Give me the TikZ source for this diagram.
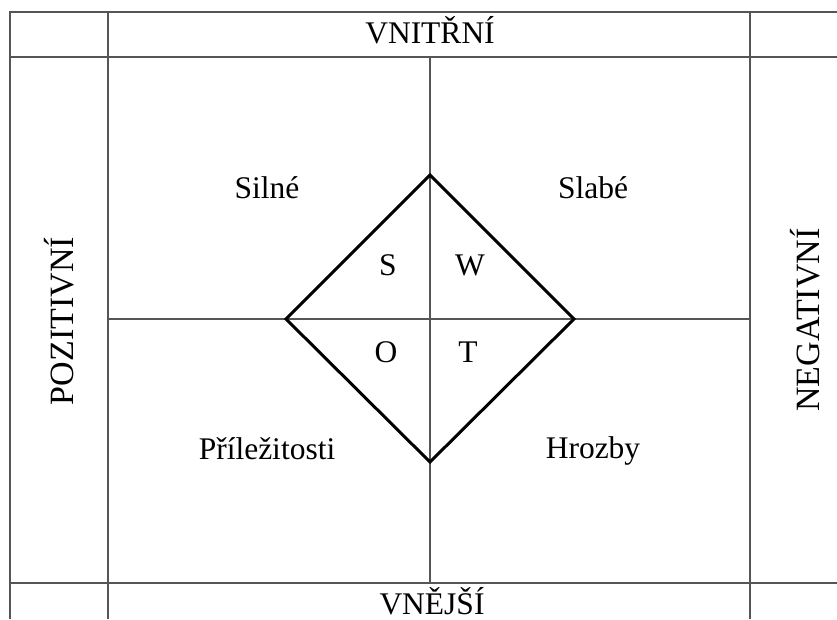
\documentclass[tikz,border=0pt]{standalone}
\usepackage{fontspec}
\setmainfont{Liberation Serif}
\definecolor{gridgray}{RGB}{85,85,85}
\begin{document}
\begin{tikzpicture}[x=1pt,y=-1pt,
  gridline/.style={line width=2pt,draw=gridgray},
  diamondline/.style={line width=3pt,draw=black,line join=miter},
  lbl/.style={inner sep=0pt,anchor=base,font=\fontsize{31.5}{36}\selectfont},
  sidelbl/.style={inner sep=0pt,rotate=90,font=\fontsize{34}{40}\selectfont}]
\useasboundingbox (0,0) rectangle (837,619);
% frame
\draw[gridline] (10,619) -- (10,12) -- (837,12);
\draw[gridline] (10,57) -- (837,57);
\draw[gridline] (10,583) -- (837,583);
\draw[gridline] (108,12) -- (108,619);
\draw[gridline] (750,12) -- (750,619);
\draw[gridline] (430,57) -- (430,583);
\draw[gridline] (108,319) -- (750,319);
% diamond
\coordinate (dt) at (430,175);
\coordinate (dl) at (286,319);
\coordinate (dr) at (574,319);
\coordinate (db) at (430,462);
\draw[diamondline] (dt) -- (dr) -- (db) -- (dl) -- cycle;
% labels
\node[lbl] (vn) at (430,43) {VNITŘNÍ};
\node[lbl] (vj) at (432,614) {VNĚJŠÍ};
\node[lbl] (si) at (267,198) {Silné};
\node[lbl] (sl) at (593,198) {Slabé};
\node[lbl] (pr) at (267,459) {Příležitosti};
\node[lbl] (hr) at (593,458) {Hrozby};
\node[lbl] (s) at (388,275) {S};
\node[lbl] (w) at (470,275) {W};
\node[lbl] (o) at (386,362) {O};
\node[lbl] (t) at (468,362) {T};
\node[sidelbl] (poz) at (59,321) {POZITIVNÍ};
\node[sidelbl] (neg) at (805,320) {NEGATIVNÍ};
\end{tikzpicture}
\end{document}
